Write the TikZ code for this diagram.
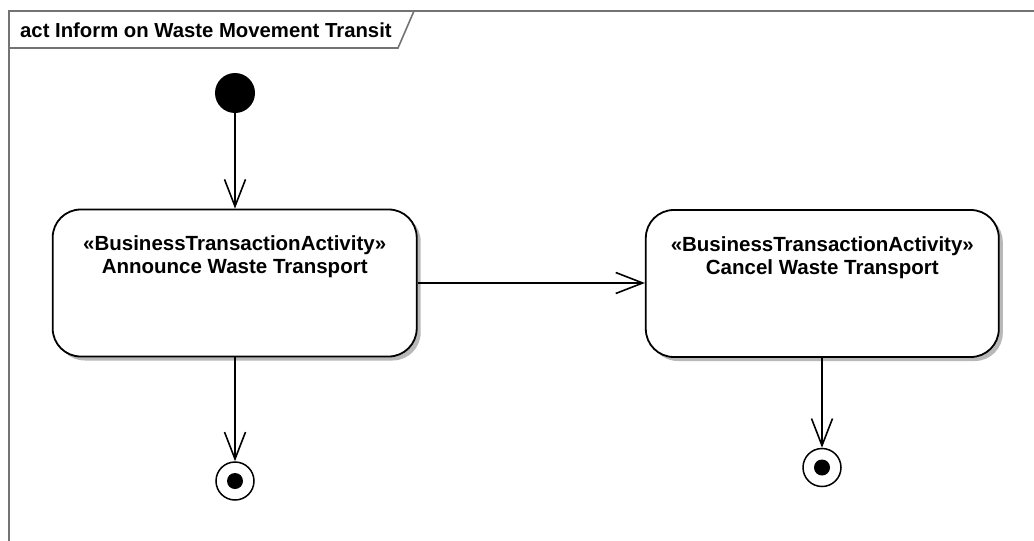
\documentclass[tikz,border=0pt]{standalone}
\usepackage{fontspec}
\setmainfont{Liberation Sans}
\usetikzlibrary{arrows.meta,shadows}
\begin{document}
\begin{tikzpicture}[x=1pt,y=-1pt,
  framel/.style={draw=black!55,line width=1.6pt},
  actbox/.style={draw=black,line width=1.8pt,fill=white,rounded corners=28pt,
    minimum height=147pt,inner sep=0pt,
    drop shadow={shadow xshift=4pt,shadow yshift=-4pt,fill=black!28,opacity=1}},
  boxtext/.style={align=center,font=\fontsize{20.5}{23}\selectfont\bfseries,inner sep=0pt},
  flow/.style={draw=black,line width=1.6pt,-{Straight Barb[length=27pt,width=21pt]}},
  initnode/.style={circle,fill=black,minimum size=40pt,inner sep=0pt},
  finalnode/.style={circle,draw=black,line width=1.5pt,fill=white,minimum size=38pt,inner sep=0pt}]
\useasboundingbox (0,0) rectangle (1034,541);
% frame
\draw[framel] (9,541) -- (9,11) -- (1034,11);
\draw[framel] (9,48) -- (398,48) -- (414,11);
\node[anchor=base west,inner sep=0pt,font=\fontsize{20.3}{22}\selectfont\bfseries] (title) at (20,37) {act Inform on Waste Movement Transit};
% nodes
\node[initnode] (init) at (235,93) {};
\node[actbox,minimum width=364pt] (a1) at (234.7,283) {};
\node[boxtext] (t1) at (234.7,257) {«BusinessTransactionActivity»\\Announce Waste Transport};
\node[actbox,minimum width=353pt] (a2) at (822.3,283.5) {};
\node[boxtext] (t2) at (822.3,258) {«BusinessTransactionActivity»\\Cancel Waste Transport};
\node[finalnode] (f1) at (235,481) {};
\fill[black] (f1.center) circle (8pt);
\node[finalnode] (f2) at (822,467.5) {};
\fill[black] (f2.center) circle (8pt);
% flows
\draw[flow] (init) -- (a1.north -| init);
\draw[flow] (a1.east |- 0,283) -- (a2.west |- 0,283);
\draw[flow] (a1.south -| f1) -- (f1.north);
\draw[flow] (a2.south -| f2) -- (f2.north);
\end{tikzpicture}
\end{document}
